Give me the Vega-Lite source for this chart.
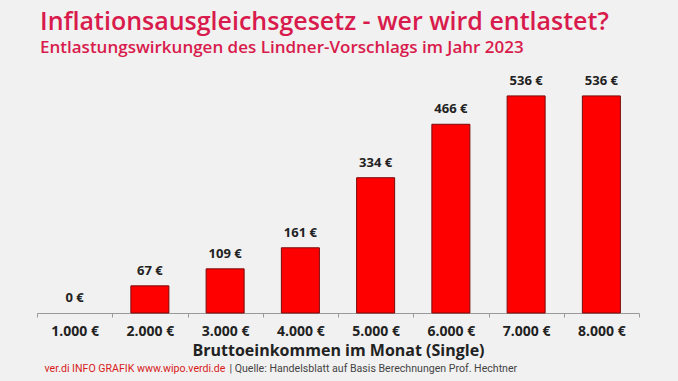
{
  "$schema": "https://vega.github.io/schema/vega-lite/v6.json",
  "width": 602,
  "height": 243,
  "autosize": {"type": "none"},
  "padding": {"left": 37, "top": 70, "right": 39, "bottom": 68},
  "background": "#f1f1f1",
  "title": {
    "text": "Inflationsausgleichsgesetz - wer wird entlastet?",
    "subtitle": "Entlastungswirkungen des Lindner-Vorschlags im Jahr 2023",
    "anchor": "start",
    "frame": "group",
    "font": "Open Sans",
    "fontSize": 25,
    "fontWeight": 600,
    "color": "#d81b4c",
    "subtitleFont": "Open Sans",
    "subtitleFontSize": 17,
    "subtitleFontWeight": 600,
    "subtitleColor": "#d81b4c",
    "subtitlePadding": 5,
    "offset": 14,
    "dx": 3
  },
  "data": {
    "values": [
      {"einkommen": "1.000 €", "entlastung": 0, "label": "0 €"},
      {"einkommen": "2.000 €", "entlastung": 67, "label": "67 €"},
      {"einkommen": "3.000 €", "entlastung": 109, "label": "109 €"},
      {"einkommen": "4.000 €", "entlastung": 161, "label": "161 €"},
      {"einkommen": "5.000 €", "entlastung": 334, "label": "334 €"},
      {"einkommen": "6.000 €", "entlastung": 466, "label": "466 €"},
      {"einkommen": "7.000 €", "entlastung": 536, "label": "536 €"},
      {"einkommen": "8.000 €", "entlastung": 536, "label": "536 €"}
    ]
  },
  "encoding": {
    "x": {
      "field": "einkommen",
      "type": "ordinal",
      "sort": null,
      "scale": {"paddingInner": 0, "paddingOuter": 0},
      "axis": {
        "labelAngle": 0,
        "tickBand": "extent",
        "domainColor": "#9a9a9a",
        "tickColor": "#9a9a9a",
        "tickSize": 4,
        "grid": false,
        "labelFont": "Open Sans",
        "labelFontWeight": "bold",
        "labelFontSize": 14,
        "labelColor": "#222222",
        "labelPadding": 7,
        "title": "Bruttoeinkommen im Monat (Single)",
        "titleFont": "Open Sans",
        "titleFontSize": 16,
        "titleFontWeight": "bold",
        "titleColor": "#222222",
        "titlePadding": 4
      }
    }
  },
  "layer": [
    {
      "mark": {"type": "bar", "width": {"band": 0.505}, "color": "#ff0000", "stroke": "#7a0a0a"},
      "encoding": {
        "y": {
          "field": "entlastung",
          "type": "quantitative",
          "scale": {"domain": [0, 600]},
          "axis": {
            "orient": "left",
            "domain": false,
            "ticks": false,
            "labels": false,
            "grid": false,
            "title": "ver.di INFO GRAFIK www.wipo.verdi.de",
            "titleAngle": 0,
            "titleAlign": "left",
            "titleBaseline": "middle",
            "titleX": 7,
            "titleY": 298,
            "titleFont": "Roboto",
            "titleFontSize": 10.6,
            "titleFontWeight": "normal",
            "titleColor": "#d81b1b"
          }
        },
        "strokeWidth": {"condition": {"test": "datum.entlastung == 0", "value": 0}, "value": 1}
      }
    },
    {
      "mark": {"type": "text", "dy": -15, "baseline": "middle", "font": "Open Sans", "fontWeight": "bold", "fontSize": 13, "color": "#222222"},
      "encoding": {
        "y": {
          "field": "entlastung",
          "type": "quantitative",
          "scale": {"domain": [0, 600]},
          "axis": {
            "orient": "right",
            "domain": false,
            "ticks": false,
            "labels": false,
            "grid": false,
            "title": "| Quelle: Handelsblatt auf Basis Berechnungen Prof. Hechtner",
            "titleAngle": 0,
            "titleAlign": "left",
            "titleBaseline": "middle",
            "titleX": -410,
            "titleY": 298,
            "titleFont": "Roboto",
            "titleFontSize": 10.6,
            "titleFontWeight": "normal",
            "titleColor": "#444444"
          }
        },
        "text": {"field": "label"}
      }
    }
  ],
  "resolve": {"axis": {"y": "independent"}},
  "config": {"view": {"stroke": null}}
}
